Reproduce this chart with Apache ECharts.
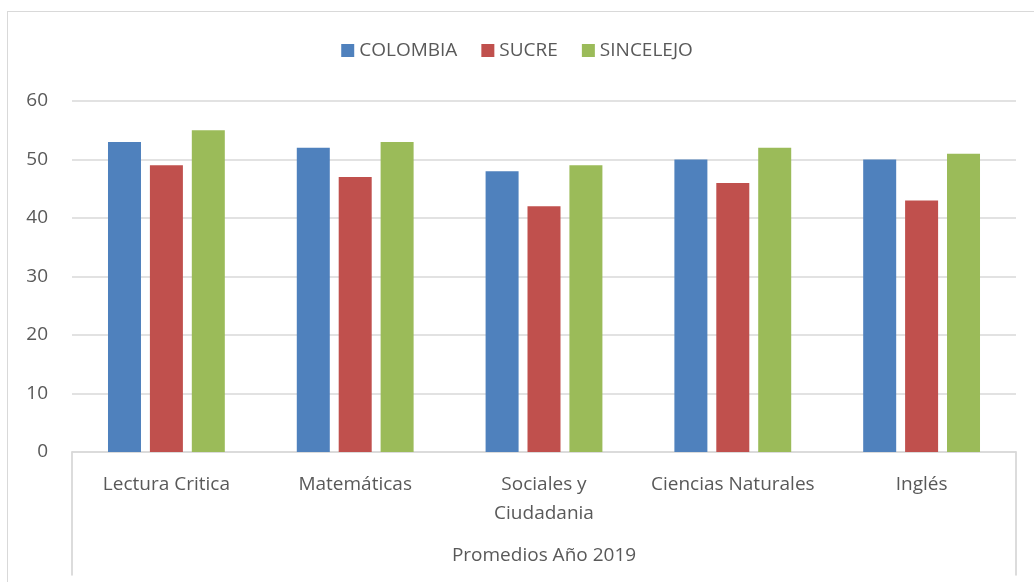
<!DOCTYPE html>
<html>
<head>
<meta charset="utf-8">
<script src="https://cdn.jsdelivr.net/npm/echarts@6/dist/echarts.min.js"></script>
<style>
  html, body { margin: 0; padding: 0; background: #fff; }
  #frame { position: absolute; left: 7px; top: 11px; width: 1100px; height: 700px; border: 1px solid #d9d9d9; }
  #chart { position: absolute; left: 0; top: 0; width: 1034px; height: 582px; }
</style>
</head>
<body>
<div id="frame"></div>
<div id="chart"></div>
<script>
  // datos
  var categories = ['Lectura Critica', 'Matemáticas', 'Sociales y\nCiudadania', 'Ciencias Naturales', 'Inglés'];
  var groupLabel = ['Promedios Año 2019'];
  var colombia = [53, 52, 48, 50, 50];
  var sucre = [49, 47, 42, 46, 43];
  var sincelejo = [55, 53, 49, 52, 51];

  var txt = '#595959';
  var font = 'Open Sans';
  var lineColor = '#d9d9d9';

  // ejes verticales del marco inferior (segundo nivel de categorías)
  function frameAxis(pos) {
    return {
      type: 'value', gridIndex: 1, position: pos, min: 0, max: 1,
      axisLine: { show: true, onZero: false, lineStyle: { color: '#d0d0d0', width: 1.5 } },
      axisTick: { show: false }, axisLabel: { show: false }, splitLine: { show: false }
    };
  }

  var chart = echarts.init(document.getElementById('chart'));
  chart.setOption({
    animation: false,
    textStyle: { fontFamily: font, color: txt },
    legend: {
      top: 36,
      left: 'center',
      itemWidth: 13,
      itemHeight: 13,
      itemGap: 24,
      icon: 'rect',
      textStyle: { fontSize: 19, color: txt, fontFamily: font },
      data: ['COLOMBIA', 'SUCRE', 'SINCELEJO']
    },
    grid: [
      { left: 72, right: 18, top: 101, bottom: 130 },
      { left: 72, right: 18, top: 452, bottom: 7 }
    ],
    xAxis: [
      {
        type: 'category',
        data: categories,
        axisLine: { show: true, lineStyle: { color: lineColor, width: 1.5 } },
        axisTick: { show: false },
        axisLabel: { margin: 18, fontSize: 19, color: txt, fontFamily: font, lineHeight: 29, interval: 0 }
      },
      {
        type: 'category',
        gridIndex: 1,
        data: groupLabel,
        position: 'bottom',
        axisLine: { show: false },
        axisTick: { show: false },
        axisLabel: { margin: -29, fontSize: 19, color: txt, fontFamily: font },
        splitLine: { show: false }
      }
    ],
    yAxis: [
      {
        type: 'value',
        min: 0,
        max: 60,
        interval: 10,
        axisLine: { show: false },
        axisTick: { show: false },
        axisLabel: { margin: 24, fontSize: 19, color: txt, fontFamily: font },
        splitLine: { lineStyle: { color: lineColor, width: 1.5 } }
      },
      frameAxis('left'),
      frameAxis('right')
    ],
    series: [
      { name: 'COLOMBIA', type: 'bar', data: colombia, barWidth: 33, barGap: '27%', itemStyle: { color: '#4F81BD' } },
      { name: 'SUCRE', type: 'bar', data: sucre, barWidth: 33, barGap: '27%', itemStyle: { color: '#C0504D' } },
      { name: 'SINCELEJO', type: 'bar', data: sincelejo, barWidth: 33, barGap: '27%', itemStyle: { color: '#9BBB59' } }
    ]
  });
</script>
</body>
</html>
